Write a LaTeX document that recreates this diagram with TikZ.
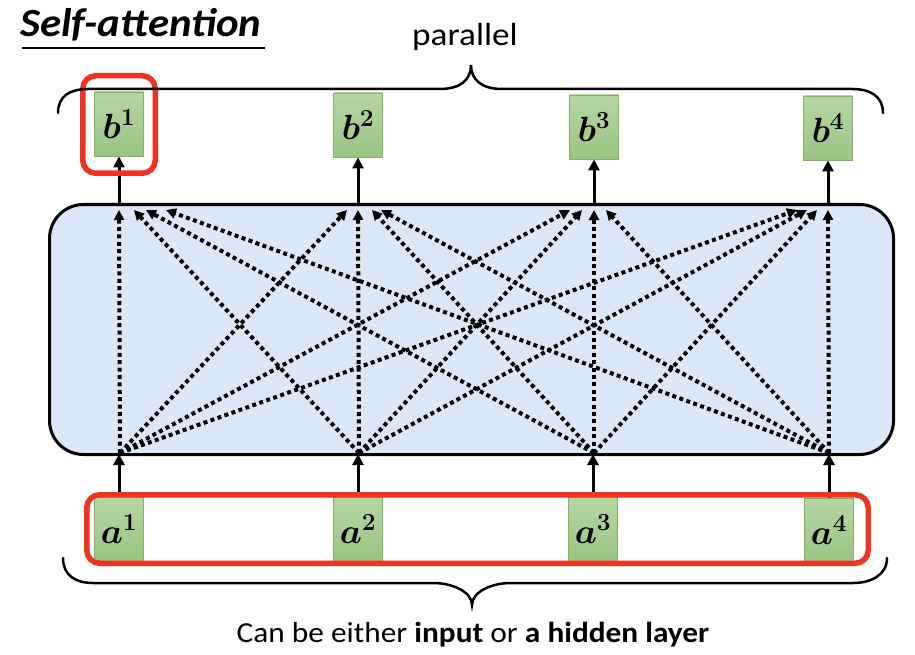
\RequirePackage{fix-cm}
\documentclass[tikz,border=0pt]{standalone}
\usepackage{graphicx}
\usepackage{fontspec}
\setmainfont{Carlito}
\usetikzlibrary{arrows.meta,calc}
\definecolor{redbox}{RGB}{236,52,32}
\definecolor{bluefill}{RGB}{220,232,247}
\definecolor{gtop}{RGB}{183,214,163}
\definecolor{gbot}{RGB}{155,196,132}
\definecolor{gborder}{RGB}{128,180,96}
\begin{document}
\begin{tikzpicture}[x=1pt,y=-1pt,
  vec/.style={draw=gborder,line width=0.8pt,top color=gtop,bottom color=gbot,
    minimum width=49pt,minimum height=64pt,inner sep=0pt,
    font=\fontsize{35}{37}\selectfont\boldmath},
  dotarrow/.style={line width=4pt,dash pattern=on 4pt off 3.4pt,
    -{Triangle[length=10pt,width=10pt]}},
  solidarrow/.style={line width=3pt,-{Triangle[length=11pt,width=11pt]}},
  redline/.style={draw=redbox,line width=5.5pt,rounded corners=13pt},
  brace/.style={line width=2.5pt,line cap=round}]
\useasboundingbox (0,0) rectangle (915,655);

% title
\node[font=\fontsize{40}{42}\selectfont\bfseries\itshape,anchor=base west,inner sep=0pt] (title) at (20,37) {\scalebox{1.07}[1]{Self-attention}};
\draw[line width=1.5pt] (22,48) -- (265,48);

% self-attention layer
\node[draw,line width=3pt,fill=bluefill,rounded corners=34pt,
  minimum width=844pt,minimum height=250pt] (sa) at (471.5,329.5) {};

% output vectors
\node[vec] (b1) at (119,124) {$b^{1}$};
\node[vec] (b2) at (358,125) {$b^{2}$};
\node[vec] (b3) at (594,127) {$b^{3}$};
\node[vec] (b4) at (828,128) {$b^{4}$};

% input vectors
\node[vec] (a1) at (119,529) {$a^{1}$};
\node[vec] (a2) at (358,529) {$a^{2}$};
\node[vec] (a3) at (593,529) {$a^{3}$};
\node[vec] (a4) at (829,530) {$a^{4}$};

% sources inside layer
\coordinate (s1) at ($(a1|-sa.south)+(1,-3)$);
\coordinate (s2) at ($(a2|-sa.south)+(1,-3)$);
\coordinate (s3) at ($(a3|-sa.south)+(1,-3)$);
\coordinate (s4) at ($(a4|-sa.south)+(0,-3)$);

\foreach \s/\t/\o in {1/1/0,2/1/15,3/1/27,4/1/47,
                      1/2/-11,2/2/0,3/2/14,4/2/23,
                      1/3/-24,2/3/-12,3/3/0,4/3/12,
                      1/4/-31,2/4/-21,3/4/-11,4/4/0}{
  \coordinate (t\s\t) at ($(b\t|-sa.north)+(\o,7)$);
  \draw[dotarrow] (s\s) -- (t\s\t);
}

% solid arrows
\foreach \i in {1,2,3,4}{
  \draw[solidarrow] (b\i|-sa.north) -- (b\i.south);
  \draw[solidarrow,shorten >=-2pt] (a\i.north) -- (a\i|-sa.south);
}

% red highlight boxes
\draw[redline] (82.75,75.75) rectangle (155.25,173.25);
\draw[redline] (86.75,494.75) rectangle (868.25,563.25);

% braces
\draw[brace] (58,113) .. controls (58,96) and (70,89) .. (88,89) -- (440,89)
  .. controls (460,89) and (471,80) .. (471,65)
  .. controls (471,80) and (482,89) .. (502,89) -- (852,89)
  .. controls (870,89) and (883,96) .. (883,113);
\draw[brace] (63,558) .. controls (63,575) and (75,583) .. (93,583) -- (433,583)
  .. controls (453,583) and (472,592) .. (472,605)
  .. controls (472,592) and (491,583) .. (511,583) -- (853,583)
  .. controls (871,583) and (887,575) .. (887,558);

% labels
\node[font=\fontsize{32}{34}\selectfont,anchor=base,inner sep=0pt] (par) at (465,46) {\scalebox{1.1}[1]{parallel}};
\node[font=\fontsize{29}{31}\selectfont,anchor=base,inner sep=0pt] (cap) at (473,642) {\scalebox{1.08}[1]{Can be either \textbf{input} or \textbf{a hidden layer}}};
\end{tikzpicture}
\end{document}
